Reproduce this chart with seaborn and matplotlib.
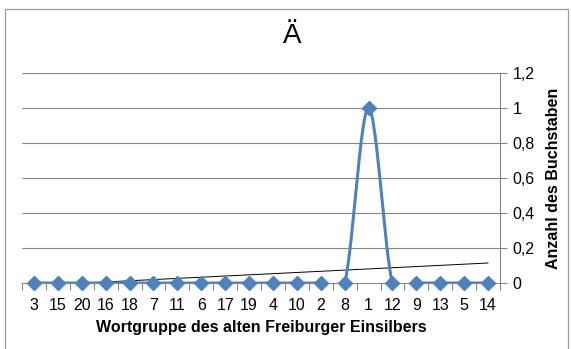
import numpy as np
import matplotlib
matplotlib.use("Agg")
import matplotlib.pyplot as plt
import matplotlib.patches as mpatches
import seaborn as sns

# Word groups (x order) and letter counts
word_groups = ["3", "15", "20", "16", "18", "7", "11", "6", "17", "19",
               "4", "10", "2", "8", "1", "12", "9", "13", "5", "14"]
counts = [0, 0, 0, 0, 0, 0, 0, 0, 0, 0, 0, 0, 0, 0, 1, 0, 0, 0, 0, 0]
y_ticks = [0, 0.2, 0.4, 0.6, 0.8, 1.0, 1.2]
y_tick_labels = ["0", "0,2", "0,4", "0,6", "0,8", "1", "1,2"]

BLUE = "#4F81BD"
GRID = "#868686"

sns.set_theme(style="white")
plt.rcParams["font.family"] = ["Liberation Sans", "DejaVu Sans"]

x = np.arange(len(word_groups), dtype=float)
y = np.array(counts, dtype=float)


def smooth_curve(px, py, n=30):
    """Catmull-Rom style cubic Bezier smoothing through the points."""
    P = np.column_stack([px, py])
    ext = np.vstack([P[0], P, P[-1]])
    out = []
    t = np.linspace(0, 1, n)[:, None]
    for i in range(1, len(ext) - 2):
        p0, p1, p2, p3 = ext[i - 1], ext[i], ext[i + 1], ext[i + 2]
        c1 = p1 + (p2 - p0) / 6.0
        c2 = p2 - (p3 - p1) / 6.0
        seg = ((1 - t) ** 3) * p1 + 3 * ((1 - t) ** 2) * t * c1 \
            + 3 * (1 - t) * t ** 2 * c2 + t ** 3 * p2
        out.append(seg if i == 1 else seg[1:])
    out = np.vstack(out)
    return out[:, 0], out[:, 1]


fig = plt.figure(figsize=(5.71, 3.49), dpi=100)
fig.patch.set_facecolor("white")

# chart-area frame
fig.add_artist(mpatches.Rectangle((5 / 571, -0.02), 563 / 571, 1 - 9 / 349 + 0.02,
                                  transform=fig.transFigure, fill=False,
                                  edgecolor="#9A9A9A", linewidth=0.9))

ax = fig.add_axes([22 / 571, 1 - 283 / 349, 478 / 571, 210 / 349])
ax.set_facecolor("white")

# linear trend line (least squares on category index)
coef = np.polyfit(x + 1, y, 1)
trend = np.polyval(coef, x + 1)
ax.plot(x, trend, color="black", linewidth=0.7, zorder=3)

sx, sy = smooth_curve(x, y)
sns.lineplot(x=sx, y=sy, sort=False, color=BLUE, linewidth=2.2, ax=ax, zorder=4)
ax.plot(x, y, linestyle="none", marker="D", markersize=7.5, color=BLUE,
        markeredgecolor=BLUE, zorder=5, clip_on=False)

ax.set_xlim(-0.5, len(word_groups) - 0.5)
ax.set_ylim(0, 1.2)

ax.yaxis.tick_right()
ax.yaxis.set_label_position("right")
ax.set_yticks(y_ticks)
ax.set_yticklabels(y_tick_labels)
ax.set_xticks(x)
ax.set_xticklabels(word_groups)
ax.set_xticks(np.arange(-0.5, len(word_groups), 1.0), minor=True)

for yt in y_ticks[1:]:
    ax.axhline(yt, color=GRID, linewidth=0.8, zorder=1)

for side in ["top", "left"]:
    ax.spines[side].set_visible(False)
ax.spines["right"].set_color(GRID)
ax.spines["right"].set_linewidth(0.8)
ax.spines["bottom"].set_color(GRID)
ax.spines["bottom"].set_linewidth(0.8)

ax.tick_params(axis="y", which="major", right=True, left=False, length=5,
               width=0.8, color=GRID, labelsize=11.5, labelcolor="black", pad=4)
ax.tick_params(axis="x", which="major", bottom=False, length=0,
               labelsize=11.5, labelcolor="black", pad=11)
ax.tick_params(axis="x", which="minor", bottom=True, length=5, width=0.8,
               color=GRID)

ax.set_xlabel("Wortgruppe des alten Freiburger Einsilbers", fontsize=11.5,
              fontweight="bold", color="black", labelpad=5)
ax.set_ylabel("Anzahl des Buchstaben", fontsize=11.5, fontweight="bold",
              color="black", rotation=90, labelpad=8)

fig.text(292 / 571, 1 - 36 / 349, "Ä", ha="center", va="center",
         fontsize=20, color="black")

fig.savefig("out.png", dpi=100, facecolor="white")
